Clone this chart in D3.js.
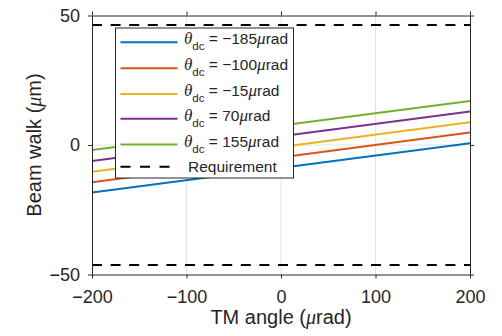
<!DOCTYPE html>
<html>
<head>
<meta charset="utf-8">
<script src="https://cdn.jsdelivr.net/npm/d3@7"></script>
<style>
  html, body { margin: 0; padding: 0; background: #fff; }
  svg { display: block; font-family: "Liberation Sans", Arial, Helvetica, sans-serif; }
</style>
</head>
<body>
<svg id="chart" width="502" height="336"></svg>
<script>
// TM angle sweep endpoints (µrad)
const tmAngle = [-200, 200];
// DC offsets of the test mass (µrad)
const thetaDC = [-185, -100, -15, 70, 155];
// Beam walk (µm) at each end of the sweep, one row per DC offset
const walkAtStart = [-18.3, -14.4, -10.3, -6.2, -1.9];
const walkAtEnd = [0.7, 4.8, 8.8, 12.9, 17.0];
// Beam walk requirement (± µm)
const requirement = 46.3;
// Axis ticks
const xTicks = [-200, -100, 0, 100, 200];
const yTicks = [-50, 0, 50];
const xDomain = [-200, 200];
const yDomain = [-50, 50];

const colors = ["#0072BD", "#D95319", "#EDB120", "#7E2F8E", "#77AC30"];
const ink = "#262626";

const plot = { left: 92, right: 470, top: 15.5, bottom: 274.5 };

const svg = d3.select("#chart");
const x = d3.scaleLinear().domain(xDomain).range([plot.left, plot.right]);
const y = d3.scaleLinear().domain(yDomain).range([plot.bottom, plot.top]);

svg.append("defs").append("clipPath").attr("id", "plotArea")
  .append("rect")
  .attr("x", plot.left).attr("y", plot.top)
  .attr("width", plot.right - plot.left).attr("height", plot.bottom - plot.top);

// Grid lines
const grid = svg.append("g").attr("stroke", "#e3e3e3").attr("stroke-width", 1);
grid.selectAll("line.gx").data(xTicks.slice(1, -1)).join("line")
  .attr("x1", d => x(d)).attr("x2", d => x(d))
  .attr("y1", plot.top).attr("y2", plot.bottom);
grid.selectAll("line.gy").data(yTicks.slice(1, -1)).join("line")
  .attr("x1", plot.left).attr("x2", plot.right)
  .attr("y1", d => y(d)).attr("y2", d => y(d));

const marks = svg.append("g").attr("clip-path", "url(#plotArea)");

// Requirement limits
marks.selectAll("line.req").data([requirement, -requirement]).join("line")
  .attr("x1", x(xDomain[0])).attr("x2", x(xDomain[1]))
  .attr("y1", d => y(d)).attr("y2", d => y(d))
  .attr("stroke", "#000").attr("stroke-width", 2)
  .attr("stroke-dasharray", "10,8.6");

// Beam walk series
const series = thetaDC.map((t, i) => ({
  theta: t,
  color: colors[i],
  points: [[tmAngle[0], walkAtStart[i]], [tmAngle[1], walkAtEnd[i]]]
}));
const line = d3.line().x(d => x(d[0])).y(d => y(d[1]));
marks.selectAll("path.series").data(series).join("path")
  .attr("d", d => line(d.points))
  .attr("fill", "none")
  .attr("stroke", d => d.color)
  .attr("stroke-width", 2);

// Axes (box with outward ticks)
function styleAxis(g) {
  g.select(".domain").attr("stroke", ink);
  g.selectAll(".tick line").attr("stroke", ink);
  g.selectAll(".tick text").attr("fill", ink)
    .attr("font-family", "'Liberation Sans', Arial, sans-serif")
    .attr("font-size", 18);
}
svg.append("g").attr("transform", `translate(0,${plot.bottom})`)
  .call(d3.axisBottom(x).tickValues(xTicks).tickSizeInner(4).tickSizeOuter(0).tickPadding(12))
  .call(styleAxis);
svg.append("g").attr("transform", `translate(0,${plot.top})`)
  .call(d3.axisTop(x).tickValues(xTicks).tickSizeInner(4).tickSizeOuter(0).tickFormat(""))
  .call(styleAxis);
svg.append("g").attr("transform", `translate(${plot.left},0)`)
  .call(d3.axisLeft(y).tickValues(yTicks).tickSizeInner(4).tickSizeOuter(0).tickPadding(8))
  .call(styleAxis);
svg.append("g").attr("transform", `translate(${plot.right},0)`)
  .call(d3.axisRight(y).tickValues(yTicks).tickSizeInner(4).tickSizeOuter(0).tickFormat(""))
  .call(styleAxis);

// Axis labels
const serif = "'Liberation Serif', 'Times New Roman', serif";
const xl = svg.append("text")
  .attr("x", (plot.left + plot.right) / 2).attr("y", 324)
  .attr("text-anchor", "middle").attr("font-size", 20).attr("fill", ink);
xl.append("tspan").text("TM angle (");
xl.append("tspan").attr("font-family", serif).attr("font-style", "italic").text("μ");
xl.append("tspan").text("rad)");

const yl = svg.append("text")
  .attr("transform", `translate(41,${(plot.top + plot.bottom) / 2}) rotate(-90)`)
  .attr("text-anchor", "middle").attr("font-size", 20).attr("fill", ink);
yl.append("tspan").text("Beam walk (");
yl.append("tspan").attr("font-family", serif).attr("font-style", "italic").text("μ");
yl.append("tspan").text("m)");

// Legend
const legend = svg.append("g");
legend.append("rect")
  .attr("x", 115.5).attr("y", 28).attr("width", 178).attr("height", 150)
  .attr("fill", "#fff").attr("stroke", ink).attr("stroke-width", 1);

const rowY = [42.3, 68.2, 94, 118.8, 144.5, 166.8];
const fmt = d3.format("d");
const rows = legend.selectAll("g.row").data(series).join("g")
  .attr("transform", (d, i) => `translate(0,${rowY[i]})`);
rows.append("line")
  .attr("x1", 120.5).attr("x2", 177.5)
  .attr("stroke", d => d.color).attr("stroke-width", 2);
const lt = rows.append("text")
  .attr("x", 184).attr("y", 2).attr("font-size", 15.5).attr("fill", ink);
lt.append("tspan").attr("font-family", serif).attr("font-style", "italic").attr("font-size", 17).text("θ");
lt.append("tspan").attr("font-size", 11.5).attr("dy", 6).text("dc");
lt.append("tspan").attr("dy", -6).text(d => "\u00a0= " + fmt(d.theta));
lt.append("tspan").attr("font-family", serif).attr("font-style", "italic").attr("font-size", 17).text("μ");
lt.append("tspan").text("rad");

const reqRow = legend.append("g").attr("transform", `translate(0,${rowY[5]})`);
reqRow.append("line")
  .attr("x1", 120.5).attr("x2", 178)
  .attr("stroke", "#000").attr("stroke-width", 2)
  .attr("stroke-dasharray", "10,9.5");
reqRow.append("text")
  .attr("x", 188).attr("y", 5.5).attr("font-size", 15.5).attr("fill", ink)
  .text("Requirement");
</script>
</body>
</html>
